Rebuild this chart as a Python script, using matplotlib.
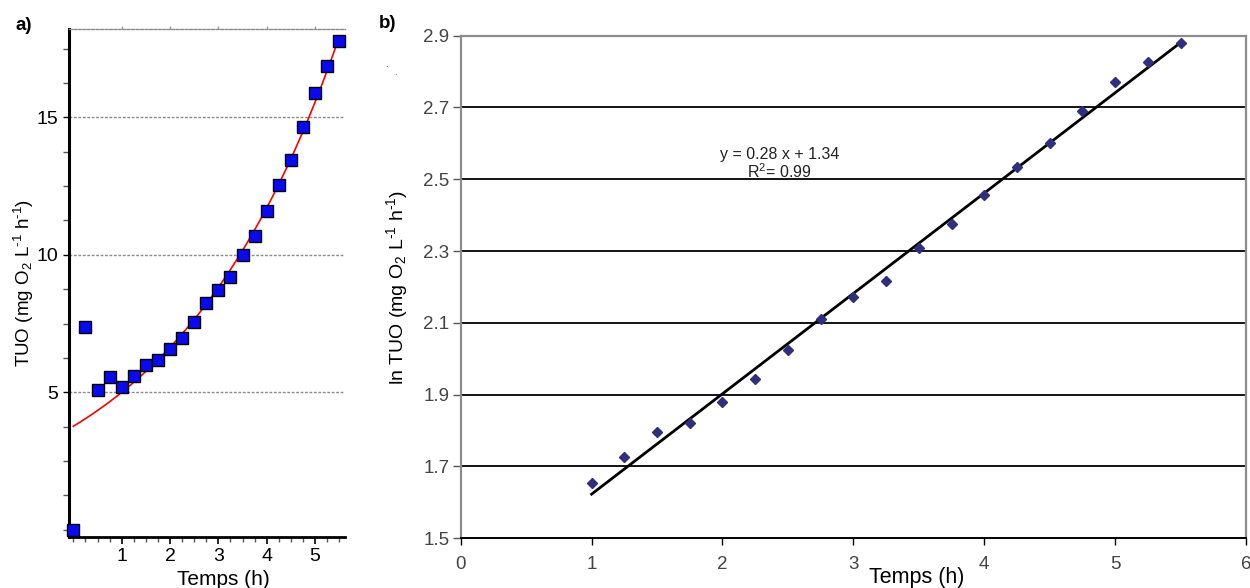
import matplotlib
matplotlib.use("Agg")
import matplotlib.pyplot as plt
import numpy as np
from matplotlib.ticker import MultipleLocator

plt.rcParams['font.family'] = ['Liberation Sans', 'DejaVu Sans']
plt.rcParams['mathtext.fontset'] = 'custom'
plt.rcParams['mathtext.rm'] = 'Liberation Sans'
plt.rcParams['mathtext.it'] = 'Liberation Sans:italic'
plt.rcParams['mathtext.bf'] = 'Liberation Sans:bold'

# ---- Panel a data ----
time_a = [0, 0.25, 0.5, 0.75, 1, 1.25, 1.5, 1.75, 2, 2.25, 2.5, 2.75, 3,
          3.25, 3.5, 3.75, 4, 4.25, 4.5, 4.75, 5, 5.25, 5.5]
tuo_a = [0.0, 7.39, 5.08, 5.56, 5.19, 5.60, 5.99, 6.16, 6.56, 6.96, 7.56, 8.23,
         8.73, 9.19, 10.01, 10.68, 11.61, 12.53, 13.45, 14.67, 15.89, 16.86, 17.79]
fit_a_amplitude = 3.76
fit_a_rate = 0.284
fit_a_range = [0.0, 5.5]
yticks_a = [5, 10, 15]
xticks_a = [1, 2, 3, 4, 5]

# ---- Panel b data ----
time_b = [1, 1.25, 1.5, 1.75, 2, 2.25, 2.5, 2.75, 3, 3.25, 3.5, 3.75, 4,
          4.25, 4.5, 4.75, 5, 5.25, 5.5]
ln_tuo_b = [1.654, 1.727, 1.795, 1.822, 1.880, 1.945, 2.025, 2.110, 2.171,
            2.217, 2.308, 2.375, 2.456, 2.533, 2.600, 2.691, 2.771, 2.828, 2.881]
fit_b_slope = 0.2795
fit_b_intercept = 1.3435
fit_b_range = [1.0, 5.5]
yticks_b = [1.5, 1.7, 1.9, 2.1, 2.3, 2.5, 2.7, 2.9]
xticks_b = [0, 1, 2, 3, 4, 5, 6]
equation_text = "y = 0.28 x + 1.34"
r2_text = "R$^{2}$= 0.99"

HY = "\u2010"  # hyphen used in superscripts
ylabel_a = "TUO (mg O$_{2}$ L$^{" + HY + "1}$ h$^{" + HY + "1}$)"
ylabel_b = "ln TUO (mg O$_{2}$ L$^{" + HY + "1}$ h$^{" + HY + "1}$)"

W, H = 1250, 588
fig = plt.figure(figsize=(W / 100, H / 100), dpi=100)

def px_axes(l, t, r, b):
    return fig.add_axes([l / W, 1 - b / H, (r - l) / W, (b - t) / H])

# ================= Panel a =================
ax = px_axes(69, 29, 345, 536.7)
ax.set_xlim(-0.09, 5.62)
ax.set_ylim(-0.26, 18.22)

xf = np.linspace(fit_a_range[0], fit_a_range[1], 200)
ax.plot(xf, fit_a_amplitude * np.exp(fit_a_rate * xf), color='red', lw=1.2, zorder=3)
ax.plot(time_a, tuo_a, linestyle='none', marker='s', markersize=8,
        markerfacecolor='#0a0af0', markeredgecolor='black', markeredgewidth=1.0,
        zorder=4, clip_on=False)

ax.set_yticks(yticks_a)
ax.set_xticks(xticks_a)
ax.yaxis.set_minor_locator(MultipleLocator(1.25))
ax.xaxis.set_minor_locator(MultipleLocator(0.25))
for yv in yticks_a:
    ax.axhline(yv, color='#8a8a8a', lw=1.0, linestyle=(0, (2, 1.2)), zorder=1)

ax.spines['right'].set_visible(False)
ax.spines['top'].set_color('#8a8a8a')
ax.spines['top'].set_linestyle((0, (2, 1.2)))
ax.spines['top'].set_linewidth(1.0)
ax.spines['left'].set_linewidth(2.2)
ax.spines['bottom'].set_linewidth(2.0)
ax.tick_params(axis='y', which='major', direction='out', length=4, width=1,
               labelsize=14, pad=4, colors='black')
ax.tick_params(axis='y', which='minor', direction='out', length=4, width=1, color='#555')
ax.tick_params(axis='x', which='major', direction='out', length=5, width=1.2,
               labelsize=14, pad=3, colors='black')
ax.tick_params(axis='x', which='minor', direction='out', length=3.5, width=1, color='#555')

# small grey tick marks on the top dotted border
top = ax.twiny()
top.set_xlim(ax.get_xlim())
top.set_xticks(xticks_a)
top.set_xticklabels([])
top.tick_params(axis='x', direction='out', length=2, width=1, color='#999')
for s in top.spines.values():
    s.set_visible(False)

ax.set_ylabel(ylabel_a, fontsize=13.5)
ax.yaxis.set_label_coords(-0.118, 0.5)
ax.set_xlabel("Temps (h)", fontsize=15)
ax.xaxis.set_label_coords(0.56, -0.084)
ax.xaxis.label.set_va('center')

fig.text(24 / W, 1 - 26 / H, "a)", fontsize=13.5, fontweight='bold', ha='center', va='center')

# ================= Panel b =================
bx = px_axes(460.7, 35.7, 1246, 538.3)
bx.set_xlim(0, 6)
bx.set_ylim(1.5, 2.9)
bx.set_yticks(yticks_b)
bx.set_xticks(xticks_b)
bx.set_yticklabels([f"{v:.1f}" for v in yticks_b])
for yv in yticks_b[1:-1]:
    bx.axhline(yv, color='black', lw=1.3, zorder=1)

xb = np.array(fit_b_range)
bx.plot(xb, fit_b_slope * xb + fit_b_intercept, color='black', lw=2.0, zorder=3)
bx.plot(time_b, ln_tuo_b, linestyle='none', marker='D', markersize=5,
        color='#2f2f7e', zorder=4)

for s in ['left', 'top', 'right']:
    bx.spines[s].set_color('#8c8c8c')
    bx.spines[s].set_linewidth(1.6)
bx.spines['bottom'].set_color('black')
bx.spines['bottom'].set_linewidth(1.4)
bx.tick_params(axis='y', direction='out', length=6, width=1, color='#555',
               labelsize=13.5, labelcolor='#444', pad=2)
bx.tick_params(axis='x', direction='out', length=5, width=1, color='black',
               labelsize=13.5, labelcolor='#444', pad=8)

bx.set_ylabel(ylabel_b, fontsize=14)
bx.yaxis.set_label_coords(-0.064, 0.5)
bx.set_xlabel("Temps (h)", fontsize=15.5)
bx.xaxis.set_label_coords(0.581, -0.078)
bx.xaxis.label.set_va('center')

fig.text(780 / W, 1 - 155 / H, equation_text, fontsize=11.5, ha='center', va='center', color='#222')
fig.text(779 / W, 1 - 172 / H, r2_text, fontsize=11.5, ha='center', va='center', color='#222')

fig.text(388 / W, 1 - 23 / H, "b)", fontsize=13.5, fontweight='bold', ha='center', va='center')
fig.text(386 / W, 1 - 64 / H, ".", fontsize=7, ha='center', va='center', color='#333')
fig.text(395 / W, 1 - 72 / H, ".", fontsize=7, ha='center', va='center', color='#555')

fig.savefig("out.png", dpi=100)
